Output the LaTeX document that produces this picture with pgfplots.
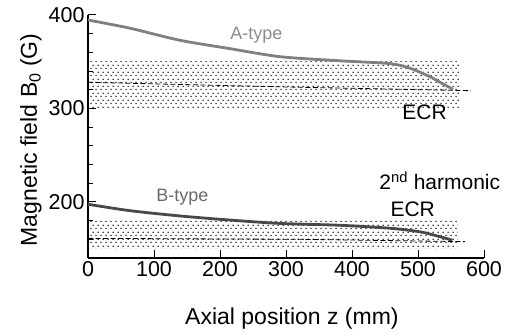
\documentclass[border=0pt]{standalone}
\usepackage{pgfplots}
\pgfplotsset{compat=1.18}
\usepackage{fontspec}
\setmainfont{Liberation Sans}
\usetikzlibrary{patterns}
\pgfdeclarepatternformonly{mydots}{\pgfpointorigin}{\pgfpoint{5pt}{6.6pt}}{\pgfpoint{5pt}{6.6pt}}{%
  \pgfpathcircle{\pgfpoint{1.25pt}{1.65pt}}{0.85pt}%
  \pgfpathcircle{\pgfpoint{3.75pt}{4.95pt}}{0.85pt}%
  \pgfusepath{fill}}
\definecolor{agray}{RGB}{128,128,128}
\definecolor{agraytxt}{RGB}{140,140,140}
\definecolor{bgray}{RGB}{72,72,72}
\definecolor{bgraytxt}{RGB}{105,105,105}
\begin{document}
\begin{tikzpicture}
\begin{axis}[
  scale only axis, width=396pt, height=243pt,
  xmin=0, xmax=600, ymin=140, ymax=400,
  axis lines=left,
  axis line style={-, line width=1.1pt},
  enlargelimits=false,
  clip=false,
  xtick={0,100,...,600},
  ytick={200,300,400},
  minor ytick={140,160,...,400},
  tick align=inside,
  major tick length=8pt, minor tick length=5pt,
  tick style={black, line width=1pt},
  /pgf/number format/assume math mode=true,
  tick label style={font=\fontsize{21.5}{25}\selectfont},
  xlabel={Axial position z (mm)},
  ylabel={Magnetic field B\textsubscript{0} (G)},
  label style={font=\fontsize{23}{27}\selectfont},
  xlabel style={at={(axis description cs:0.515,-0.2757)}, anchor=base},
  ylabel style={at={(axis description cs:-0.1288,0.486)}, anchor=base},
]
% ECR bands
\addplot[draw=none, pattern=mydots, pattern color=black] coordinates {(0,300) (563,300) (563,350) (0,350) (0,300)};
\addplot[draw=none, pattern=mydots, pattern color=black] coordinates {(0,150) (560,150) (560,180) (0,180) (0,150)};
% resonance lines
\addplot[black, line width=0.8pt, dash pattern=on 5pt off 2.5pt] coordinates {(0,328) (300,323) (580,319)};
\addplot[black, line width=0.8pt, dash pattern=on 5pt off 2.5pt] coordinates {(0,161) (320,160) (571,157.5)};
% A-type
\addplot[agray, line width=2.8pt, smooth] coordinates {
 (0,394.6) (64,385.8) (139,373) (215,364) (291,355.4) (382,351) (457,348) (488,343) (518,334) (536,327) (553,320.5)};
% B-type
\addplot[bgray, line width=2.8pt, smooth] coordinates {
 (0,197.5) (64,190.6) (139,185) (215,180.6) (291,177) (382,175) (458,171.8) (503,168) (529,163.6) (552,159)};
\node[anchor=base, text=agraytxt, font=\fontsize{18}{21}\selectfont] at (axis cs:255,373.3) {A-type};
\node[anchor=base, text=bgraytxt, font=\fontsize{18}{21}\selectfont] at (axis cs:143,200.2) {B-type};
\node[anchor=base, font=\fontsize{21}{25}\selectfont] at (axis cs:510,287.7) {ECR};
\node[anchor=base, font=\fontsize{21}{25}\selectfont] at (axis cs:533,212.8) {2\textsuperscript{nd} harmonic};
\node[anchor=base, font=\fontsize{21}{25}\selectfont] at (axis cs:492,184.2) {ECR};
\end{axis}
\pgfresetboundingbox
\path (-88pt,-78pt) rectangle (422pt,258pt);
\end{tikzpicture}
\end{document}
